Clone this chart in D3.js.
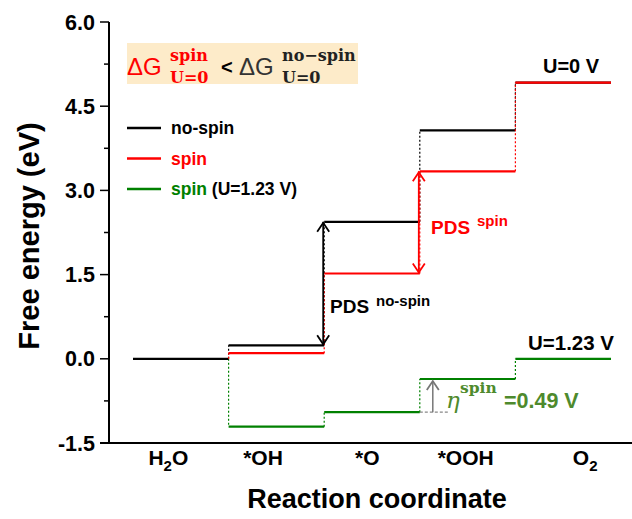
<!DOCTYPE html>
<html>
  <head>
    <script src="https://d3js.org/d3.v7.min.js"></script>
    <style>
      body { margin: 0; background: #fff; }
      text { font-family: "Liberation Sans", Arial, sans-serif; font-weight: bold; }
      .serif { font-family: "DejaVu Serif", "Liberation Serif", serif; }
    </style>
  </head>
  <body>
    <div id="chart"></div>
    <script>
      // data
      const steps = ["H", "*OH", "*O", "*OOH", "O"];
      const stepSub = ["2O", "", "", "", "2"];
      const labelPos = [0.37, 1.36, 2.45, 3.48, 4.73];
      const noSpin = [0, 0.24, 2.44, 4.07, 4.92];
      const spin = [0, 0.10, 1.52, 3.34, 4.92];
      const spinU = [0, -1.21, -0.95, -0.36, 0.0];
      const yTicks = [-1.5, 0, 1.5, 3, 4.5, 6];
      const yMinor = [-0.75, 0.75, 2.25, 3.75, 5.25];

      const width = 632, height = 519;
      const svg = d3.select("#chart").append("svg")
        .attr("width", width).attr("height", height);

      const x = d3.scaleLinear().domain([0, 5]).range([133, 611]);
      const y = d3.scaleLinear().domain([-1.5, 6]).range([443, 22]);
      const x0 = 109;

      // highlight box
      svg.append("rect").attr("x", 127).attr("y", 43).attr("width", 231).attr("height", 41)
        .attr("fill", "#fdebc9");
      const box = svg.append("g");
      box.append("text").attr("x", 127).attr("y", 75).attr("font-size", 24)
        .attr("fill", "red").style("font-weight", "normal").text("\u0394G");
      box.append("text").attr("class", "serif").attr("x", 170).attr("y", 61).attr("font-size", 16)
        .attr("fill", "red").text("spin");
      box.append("text").attr("class", "serif").attr("x", 170).attr("y", 83).attr("font-size", 16)
        .attr("fill", "red").text("U=0");
      box.append("text").attr("x", 221).attr("y", 74).attr("font-size", 20)
        .attr("fill", "#000").text("<");
      box.append("text").attr("x", 239).attr("y", 75).attr("font-size", 24)
        .attr("fill", "#333").style("font-weight", "normal").text("\u0394G");
      box.append("text").attr("class", "serif").attr("x", 282).attr("y", 61).attr("font-size", 16)
        .attr("fill", "#222").text("no\u2212spin");
      box.append("text").attr("class", "serif").attr("x", 282).attr("y", 83).attr("font-size", 16)
        .attr("fill", "#222").text("U=0");

      // legend
      const legend = [
        { name: "no-spin", color: "#000", extra: "" },
        { name: "spin", color: "red", extra: "" },
        { name: "spin", color: "green", extra: " (U=1.23 V)" }
      ];
      legend.forEach((d, i) => {
        const ly = 128 + i * 30.5;
        svg.append("line").attr("x1", 127).attr("x2", 161).attr("y1", ly).attr("y2", ly)
          .attr("stroke", d.color).attr("stroke-width", 2.5);
        const t = svg.append("text").attr("x", 171).attr("y", ly + 6).attr("font-size", 17.5);
        t.append("tspan").attr("fill", d.color).text(d.name);
        if (d.extra) t.append("tspan").attr("fill", "#000").text(d.extra);
      });

      // energy levels (red and green start at *OH, hidden under black at H2O)
      const series = [
        { vals: spinU, color: "green", from: 1 },
        { vals: noSpin, color: "#000", from: 0 },
        { vals: spin, color: "red", from: 1 }
      ];
      series.forEach(s => {
        const g = svg.append("g");
        s.vals.forEach((v, i) => {
          if (i >= s.from) {
            g.append("line").attr("x1", x(i)).attr("x2", x(i + 1))
              .attr("y1", y(v)).attr("y2", y(v))
              .attr("stroke", s.color).attr("stroke-width", 2.2);
          }
          if (i > 0) {
            g.append("line").attr("x1", x(i)).attr("x2", x(i))
              .attr("y1", y(s.vals[i - 1])).attr("y2", y(v))
              .attr("stroke", s.color).attr("stroke-width", 1.2)
              .attr("stroke-dasharray", "2,2");
          }
        });
      });

      // arrows
      function arrowHead(xp, yp, dir, color) {
        // dir = -1 pointing up, 1 pointing down
        svg.append("path")
          .attr("d", `M${xp - 6},${yp - dir * 9}L${xp},${yp}L${xp + 6},${yp - dir * 9}`)
          .attr("fill", "none").attr("stroke", color).attr("stroke-width", 1.8);
      }
      function dblArrow(xp, v1, v2, color) {
        svg.append("line").attr("x1", xp).attr("x2", xp)
          .attr("y1", y(v1)).attr("y2", y(v2))
          .attr("stroke", color).attr("stroke-width", 1.8);
        arrowHead(xp, y(v2) + 1, -1, color);
        arrowHead(xp, y(v1) - 1, 1, color);
      }
      dblArrow(x(2) - 1, noSpin[1], noSpin[2], "#000");
      dblArrow(x(3) - 1, spin[2], spin[3], "red");

      // eta arrow
      const ex = x(3) + 13;
      svg.append("line").attr("x1", x(3)).attr("x2", x(3) + 30)
        .attr("y1", y(spinU[2])).attr("y2", y(spinU[2]))
        .attr("stroke", "#888").attr("stroke-width", 1.2).attr("stroke-dasharray", "3,2");
      svg.append("line").attr("x1", ex).attr("x2", ex)
        .attr("y1", y(spinU[2])).attr("y2", y(spinU[3]) + 2)
        .attr("stroke", "#777").attr("stroke-width", 1.5);
      arrowHead(ex, y(spinU[3]) + 2, -1, "#777");

      // annotations
      svg.append("text").attr("x", 330).attr("y", 313).attr("font-size", 19).text("PDS");
      svg.append("text").attr("x", 376).attr("y", 306).attr("font-size", 15).text("no-spin");

      svg.append("text").attr("x", 431).attr("y", 234).attr("font-size", 19)
        .attr("fill", "red").text("PDS");
      svg.append("text").attr("x", 477).attr("y", 226).attr("font-size", 15)
        .attr("fill", "red").text("spin");

      svg.append("text").attr("x", 543).attr("y", 73).attr("font-size", 20).text("U=0 V");
      svg.append("text").attr("x", 528).attr("y", 350).attr("font-size", 20.5).text("U=1.23 V");

      const etaColor = "#4e8a2d";
      svg.append("text").attr("class", "serif").attr("x", 446).attr("y", 408)
        .attr("font-size", 23).attr("fill", etaColor)
        .style("font-style", "italic").style("font-weight", "normal").text("\u03b7");
      svg.append("text").attr("class", "serif").attr("x", 460).attr("y", 393)
        .attr("font-size", 15.5).attr("fill", etaColor).text("spin");
      svg.append("text").attr("x", 504).attr("y", 408).attr("font-size", 21.5)
        .attr("fill", etaColor).text("=0.49 V");

      // axes
      svg.append("line").attr("x1", x0).attr("x2", x0).attr("y1", y(6)).attr("y2", y(-1.5))
        .attr("stroke", "#000").attr("stroke-width", 2);
      svg.append("line").attr("x1", 100).attr("x2", 632).attr("y1", y(-1.5)).attr("y2", y(-1.5))
        .attr("stroke", "#000").attr("stroke-width", 2);

      svg.selectAll(".major").data(yTicks).enter().append("line")
        .attr("x1", x0 - 9).attr("x2", x0).attr("y1", d => y(d)).attr("y2", d => y(d))
        .attr("stroke", "#000").attr("stroke-width", 1.5);
      svg.selectAll(".minor").data(yMinor).enter().append("line")
        .attr("x1", x0 - 5).attr("x2", x0).attr("y1", d => y(d)).attr("y2", d => y(d))
        .attr("stroke", "#000").attr("stroke-width", 1.5);
      svg.selectAll(".ylab").data(yTicks).enter().append("text")
        .attr("x", x0 - 14).attr("y", d => y(d) + 7.5).attr("text-anchor", "end")
        .attr("font-size", 21.5).text(d => d.toFixed(1));

      const xl = svg.selectAll(".xlab").data(steps).enter().append("text")
        .attr("x", (d, i) => x(labelPos[i])).attr("y", 465).attr("text-anchor", "middle")
        .attr("font-size", 21);
      xl.each(function (d, i) {
        const t = d3.select(this);
        t.append("tspan").text(d);
        if (stepSub[i]) {
          t.append("tspan").attr("font-size", 15).attr("dy", 6).text(stepSub[i][0]);
          if (stepSub[i].length > 1) t.append("tspan").attr("dy", -6).text(stepSub[i].slice(1));
        }
      });

      svg.append("text").attr("x", 377).attr("y", 508).attr("text-anchor", "middle")
        .attr("font-size", 27).text("Reaction coordinate");
      svg.append("text").attr("transform", "translate(39,236) rotate(-90)")
        .attr("text-anchor", "middle").attr("font-size", 29).text("Free energy (eV)");
    </script>
  </body>
</html>
